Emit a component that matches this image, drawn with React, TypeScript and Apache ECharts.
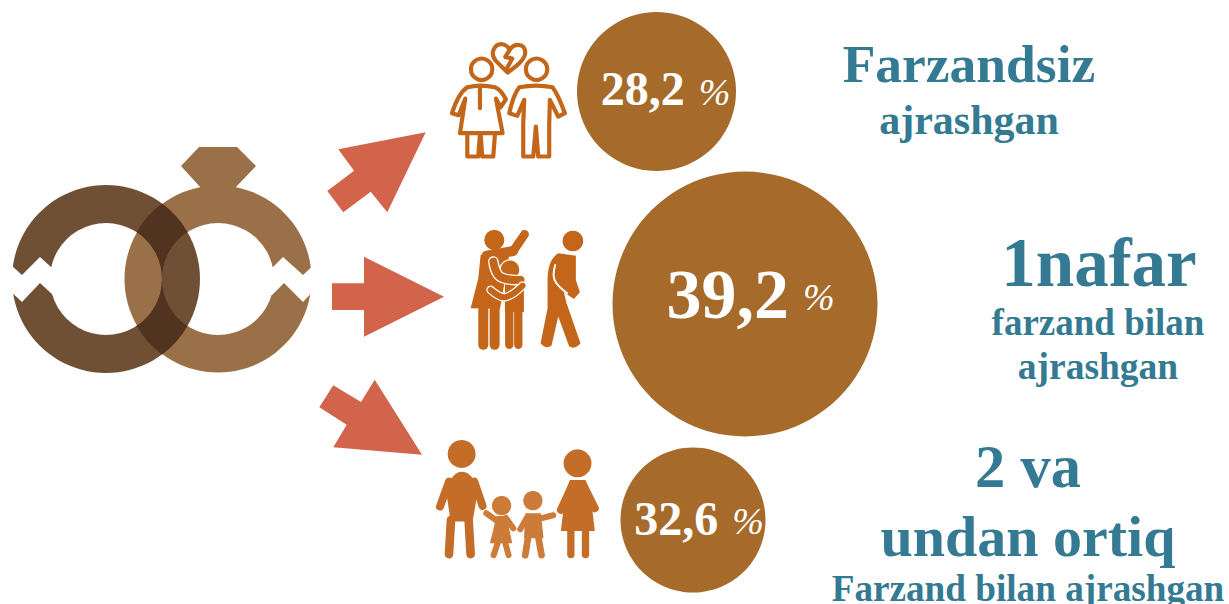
import React, { useEffect, useRef } from "react";
import * as echarts from "echarts";

const shareLabels = ["28,2", "39,2", "32,6"];
const shareValues = [28.2, 39.2, 32.6];
const percentSign = "%";
const captionsTop = ["Farzandsiz", "ajrashgan"];
const captionsMiddle = ["1nafar", "farzand bilan", "ajrashgan"];
const captionsBottom = ["2 va", "undan ortiq", "Farzand bilan ajrashgan"];

const SERIF = "'Liberation Serif', 'Times New Roman', serif";
const TEAL = "#337A92";
const BUBBLE = "#A66B2B";
const ARROW = "#D1644A";
const RING_L = "#6F5035";
const RING_R = "#9A7049";
const RING_X = "#50341F";
const ICON = "#C4661A";
const ICON3 = "#C46D28";
const KID = "#CC7B38";

echarts.graphic.registerShape("lensTop", echarts.graphic.extendPath("M162 203.5 A94 94 0 0 1 187.4 232 A56 56 0 0 0 162 279 A56 56 0 0 0 136.6 232 A94 94 0 0 1 162 203.5 Z", {}));
echarts.graphic.registerShape("lensBottom", echarts.graphic.extendPath("M162 354.5 A94 94 0 0 0 187.4 326 A56 56 0 0 1 162 279 A56 56 0 0 1 136.6 326 A94 94 0 0 0 162 354.5 Z", {}));
echarts.graphic.registerShape("heart", echarts.graphic.extendPath("M233 218 L197 182 C178 158 195 130 218 133 C228 134 234 142 240 149 L226 171 L247 176 L231 205 M240 149 C252 130 285 128 286 158 C286 180 258 200 233 218", {}));
echarts.graphic.registerShape("woman", echarts.graphic.extendPath("M112 262 Q150 252 195 262 Q212 268 228 298 L212 322 L198 296 L218 400 L90 400 L106 296 L86 346 L66 340 Q85 280 112 262 Z M150 258 L150 325 M112 404 L112 470 L145 470 L150 404 M152 404 L157 470 L190 470 L195 404", {}));
echarts.graphic.registerShape("man", echarts.graphic.extendPath("M268 262 Q320 252 368 262 Q385 285 405 340 L385 350 L360 300 L358 375 L358 470 L325 470 L318 380 L310 470 L280 470 L280 370 L283 300 L262 348 L238 340 Q250 285 268 262 Z", {}));
echarts.graphic.registerShape("hugBody", echarts.graphic.extendPath("M92 120 L180 108 L150 282 L62 280 L85 190 Z", {}));
echarts.graphic.registerShape("walker", echarts.graphic.extendPath("M293 200 Q292 135 325 115 L378 122 L378 195 L390 232 L372 252 L342 232 L350 265 L392 385 Q375 405 358 395 L325 305 L305 392 Q288 405 272 385 L293 280 Z", {}));
echarts.graphic.registerShape("manTorso", echarts.graphic.extendPath("M62 175 Q85 125 110 125 Q140 125 160 175 L143 275 L77 275 Z", {}));

const poly = (points: number[][], fill: string) => ({ type: "polygon", shape: { points }, style: { fill } });
const ln = (x1: number, y1: number, x2: number, y2: number, stroke: string, lineWidth: number) => ({
  type: "line",
  shape: { x1, y1, x2, y2 },
  style: { stroke, lineWidth, lineCap: "round" },
});
const dot = (cx: number, cy: number, r: number, fill: string) => ({ type: "circle", shape: { cx, cy, r }, style: { fill } });
const stroke = (points: number[][], color: string, lineWidth: number) => ({
  type: "polyline",
  shape: { points, smooth: 0.4 },
  style: { fill: "none", stroke: color, lineWidth, lineCap: "round", lineJoin: "round" },
});
const cap = (text: string, x: number, y: number, size: number) => ({
  type: "text",
  x,
  y,
  style: { text, fill: TEAL, font: `bold ${size}px ${SERIF}`, align: "center", verticalAlign: "middle" },
});

const rings = [
  { type: "ring", shape: { cx: 218, cy: 279, r: 93.5, r0: 56 }, style: { fill: RING_R } },
  poly([[199, 147], [237, 147], [256, 166], [235, 188], [201, 188], [181, 166]], RING_R),
  { type: "ring", shape: { cx: 106, cy: 279, r: 94, r0: 56 }, style: { fill: RING_L } },
  { type: "lensTop", style: { fill: RING_X } },
  { type: "lensBottom", style: { fill: RING_X } },
  poly([[6, 260.5], [22, 275], [40, 257], [51, 267], [62, 267], [62, 295], [53, 295], [40, 283], [22, 302], [6, 287]], "#fff"),
  poly([[262, 267], [273, 267], [283, 257], [303, 275], [318, 261], [318, 286], [303, 302], [284, 283], [272, 295], [262, 295]], "#fff"),
];

const arrows = [
  poly([[425.7, 132.3], [338.3, 149.3], [354, 170.7], [327.3, 191], [343.3, 212.3], [370.7, 191.7], [387.3, 212.3]], ARROW),
  poly([[332, 283.3], [364, 283.3], [364, 256.7], [444, 296.7], [364, 336.7], [364, 310], [332, 310]], ARROW),
  poly([[333.3, 385.3], [361, 402], [374.7, 379.7], [422, 454.7], [333.3, 447.3], [346.7, 424.7], [319.3, 407.3]], ARROW),
];

const outline = (type: string) => ({ type, style: { fill: "none", stroke: ICON, lineWidth: 12.5, lineJoin: "round", lineCap: "round" } });
const couple = {
  type: "group",
  x: 430,
  y: 0,
  scaleX: 1 / 3,
  scaleY: 1 / 3,
  children: [
    outline("heart"),
    { type: "circle", shape: { cx: 155, cy: 208, r: 32 }, style: { fill: "none", stroke: ICON, lineWidth: 12.5 } },
    { type: "circle", shape: { cx: 320, cy: 208, r: 32 }, style: { fill: "none", stroke: ICON, lineWidth: 12.5 } },
    outline("woman"),
    outline("man"),
  ],
};

const hug = {
  type: "group",
  x: 450,
  y: 215,
  scaleX: 1 / 3,
  scaleY: 1 / 3,
  children: [
    dot(133, 75, 30, ICON),
    ln(110, 122, 190, 108, ICON, 30),
    ln(190, 108, 224, 58, ICON, 26),
    poly([[165, 180], [222, 205], [222, 292], [165, 292]], ICON),
    ln(178, 295, 178, 390, ICON, 25),
    ln(205, 295, 205, 390, ICON, 25),
    { type: "hugBody", style: { fill: ICON } },
    ln(100, 285, 100, 390, ICON, 30),
    ln(134, 285, 134, 390, ICON, 30),
    ln(160, 285, 160, 392, "#fff", 4),
    dot(180, 165, 32, "#fff"),
    dot(180, 165, 28, ICON),
    stroke([[130, 140], [150, 185], [212, 195]], "#fff", 32),
    stroke([[130, 140], [150, 185], [212, 195]], ICON, 24),
    stroke([[122, 225], [165, 247], [218, 212]], "#fff", 26),
    stroke([[122, 225], [165, 247], [218, 212]], ICON, 18),
    dot(369, 78, 31, ICON),
    { type: "walker", style: { fill: ICON } },
    stroke([[316, 150], [314, 195], [352, 235]], "#fff", 6),
  ],
};

const family = {
  type: "group",
  x: 425,
  y: 430,
  scaleX: 1 / 3,
  scaleY: 1 / 3,
  children: [
    dot(110, 72, 42, ICON3),
    { type: "manTorso", style: { fill: ICON3 } },
    ln(72, 155, 45, 230, ICON3, 24),
    ln(148, 155, 173, 228, ICON3, 24),
    ln(78, 270, 72, 373, ICON3, 26),
    ln(131, 270, 137, 373, ICON3, 26),
    dot(458, 100, 42, ICON3),
    poly([[435, 150], [482, 150], [496, 185], [510, 303], [408, 303], [422, 185]], ICON3),
    ln(443, 165, 408, 240, ICON3, 24),
    ln(475, 165, 510, 235, ICON3, 24),
    ln(438, 300, 438, 374, ICON3, 22),
    ln(482, 300, 482, 374, ICON3, 22),
    dot(230, 227, 29, KID),
    poly([[215, 258], [245, 258], [262, 340], [195, 340]], KID),
    ln(184, 250, 218, 274, KID, 18),
    ln(265, 295, 243, 264, KID, 18),
    ln(220, 335, 206, 376, KID, 18),
    ln(240, 335, 251, 376, KID, 18),
    dot(324, 212, 29, KID),
    poly([[302, 250], [348, 250], [356, 325], [297, 325]], KID),
    ln(286, 298, 308, 260, KID, 18),
    ln(385, 256, 345, 266, KID, 18),
    ln(310, 320, 301, 376, KID, 20),
    ln(340, 320, 350, 376, KID, 20),
  ],
};

const captions = [
  cap(captionsTop[0], 969, 64, 53.5),
  cap(captionsTop[1], 969, 120, 42),
  cap(captionsMiddle[0], 1099, 263, 69),
  cap(captionsMiddle[1], 1098, 322, 37),
  cap(captionsMiddle[2], 1098, 366, 37.5),
  cap(captionsBottom[0], 1028, 466, 60.5),
  cap(captionsBottom[1], 1028, 536, 58),
  cap(captionsBottom[2], 1028, 588, 37.2),
];

const bubbleCenters = [[656.5, 91.5], [745, 304], [693, 520]];
const bubbleSizes = [159, 265, 145];
const numberFonts = [48, 70, 48];
const labelOffsets = [[9, -3], [5.5, -10], [6, -2]];

export default function App() {
  const ref = useRef<HTMLDivElement>(null);
  useEffect(() => {
    document.body.style.margin = "0";
    const chart = echarts.init(ref.current!, undefined, { renderer: "svg" });
    chart.setOption({
      animation: false,
      backgroundColor: "#fff",
      grid: { left: 0, right: 0, top: 0, bottom: 0 },
      xAxis: { type: "value", min: 0, max: 1229, show: false },
      yAxis: { type: "value", min: 0, max: 604, inverse: true, show: false },
      series: [
        {
          type: "scatter",
          silent: true,
          data: shareValues.map((v, i) => ({
            value: [bubbleCenters[i][0], bubbleCenters[i][1], v],
            symbolSize: bubbleSizes[i],
            label: {
              show: true,
              position: "inside",
              offset: labelOffsets[i],
              formatter: `{n${i}|${shareLabels[i]}}{s|}{p|${percentSign}}`,
              rich: {
                [`n${i}`]: { fontFamily: SERIF, fontWeight: "bold", fontSize: numberFonts[i], color: "#fff" },
                s: { width: 14 },
                p: { fontFamily: SERIF, fontStyle: "italic", fontSize: 38, color: "#fff", padding: [6, 0, 0, 0] },
              },
            },
          })),
          itemStyle: { color: BUBBLE, opacity: 1 },
        },
      ],
      graphic: { elements: [...rings, ...arrows, couple, hug, family, ...captions] },
    });
    return () => chart.dispose();
  }, []);
  return <div ref={ref} style={{ width: 1229, height: 604 }} />;
}
